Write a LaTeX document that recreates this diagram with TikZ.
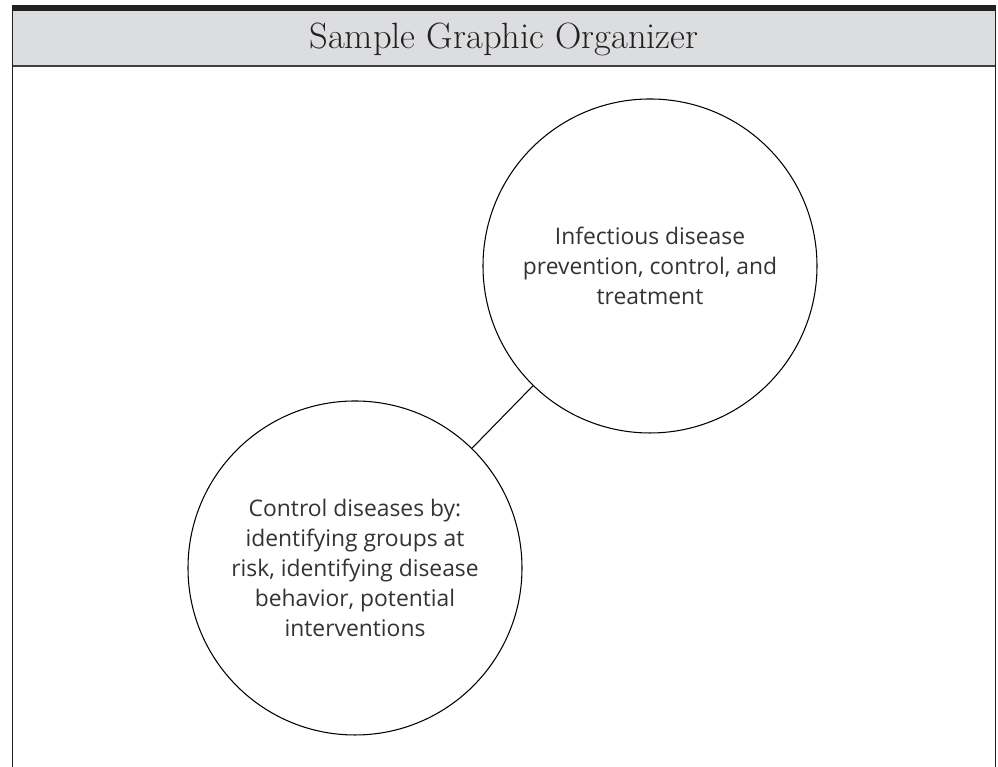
\documentclass[tikz,border=0pt]{standalone}
\usepackage{fontspec}
\newfontfamily\handfont{Open Sans}
\usepackage{tikz}

\definecolor{headgray}{RGB}{220,221,223}
\definecolor{inkdark}{RGB}{35,31,32}

\begin{document}
\begin{tikzpicture}
    % Styles
    \tikzstyle{topic} = [circle, draw=black, line width=0.6pt, minimum size=6.68cm, inner sep=0pt, align=center, font=\handfont\fontsize{13}{17}\selectfont, text=black!80]
    \tikzstyle{link} = [draw=black, line width=0.6pt]
    \tikzstyle{frame} = [draw=inkdark, line width=0.75pt]

    \useasboundingbox (0,0) rectangle (19.96,15.34);

    % Header band and frame
    \fill[headgray] (0.25,15.12) rectangle (19.91,14.02);
    \fill[inkdark] (0.25,15.23) rectangle (19.91,15.12);
    \draw[frame, draw=black!75, line width=0.6pt] (0.25,14.02) -- (19.91,14.02);
    \draw[frame] (0.25,15.23) -- (0.25,0) (19.91,15.23) -- (19.91,0);
    \node[anchor=base, text=inkdark, font=\fontsize{20.8}{24}\selectfont] (title) at (10.08,14.37) {Sample Graphic Organizer};

    % Nodes
    \node[topic] (infect) at (13.0,10.02) {Infectious disease\\prevention, control, and\\treatment};
    \node[topic] (control) at (7.1,3.98) {Control diseases by:\\identifying groups at\\risk, identifying disease\\behavior, potential\\interventions};

    % Connector
    \draw[link] (control) -- (infect);
\end{tikzpicture}
\end{document}
